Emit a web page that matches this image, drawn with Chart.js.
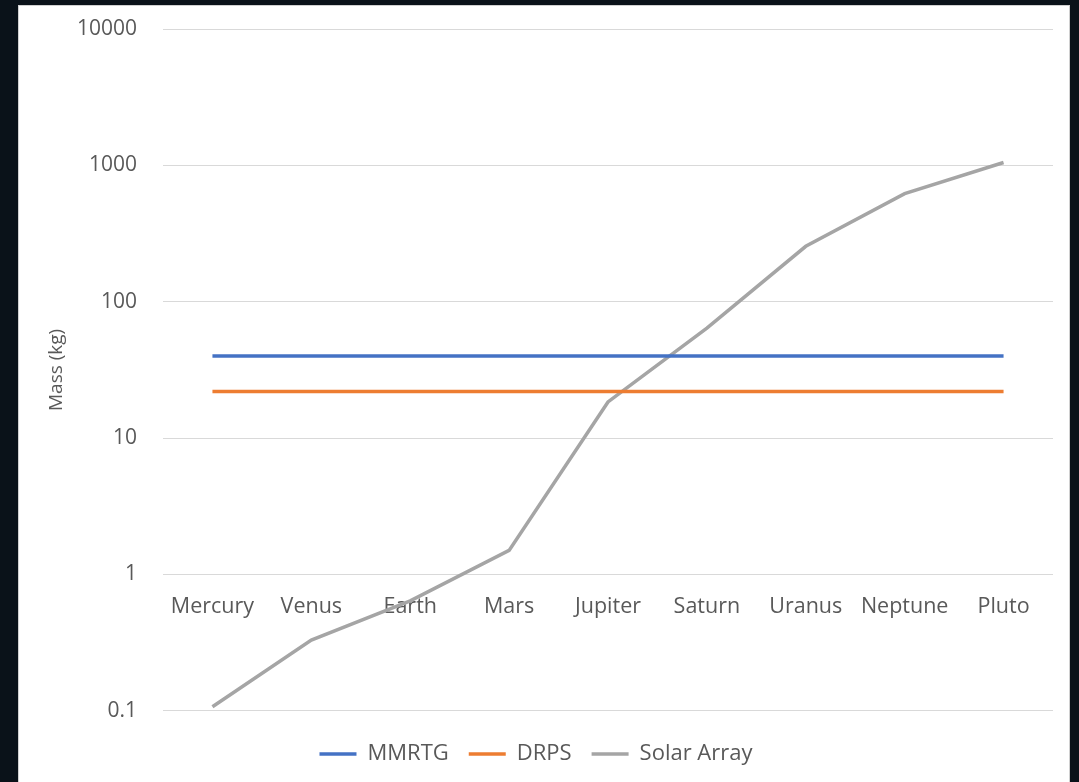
<!DOCTYPE html>
<html>
<head>
<meta charset="utf-8">
<script src="https://cdn.jsdelivr.net/npm/chart.js@4"></script>
<style>
  html, body { margin: 0; padding: 0; overflow: hidden; }
  body { background: #0a1219; width: 1079px; height: 782px; position: relative; }
  #panel {
    position: absolute; left: 18px; top: 5px; width: 1052px; height: 820px;
    background: #fff; border: 1px solid #d0d0d0; box-sizing: border-box;
  }
  #massChart { display: block; }
</style>
</head>
<body>
<div id="panel"><canvas id="massChart" width="1050" height="769"></canvas></div>
<script>
var planets = ["Mercury", "Venus", "Earth", "Mars", "Jupiter", "Saturn", "Uranus", "Neptune", "Pluto"];
var mmrtg = [40, 40, 40, 40, 40, 40, 40, 40, 40];
var drps = [22, 22, 22, 22, 22, 22, 22, 22, 22];
var solarArray = [0.107, 0.33, 0.64, 1.5, 18.4, 64, 255, 620, 1050];
var yTicks = [0.1, 1, 10, 100, 1000, 10000];
var yTickLabels = ["0.1", "1", "10", "100", "1000", "10000"];

var textColor = "#595959";
var fontName = "'Open Sans', sans-serif";

function lineSet(label, values, color) {
    return {
        label: label,
        data: values,
        borderColor: color,
        backgroundColor: color,
        borderWidth: 3.5,
        pointRadius: 0,
        tension: 0
    };
}

new Chart("massChart", {
    type: "line",
    data: {
        labels: planets,
        datasets: [
            lineSet("MMRTG", mmrtg, "#4472C4"),
            lineSet("DRPS", drps, "#ED7D31"),
            lineSet("Solar Array", solarArray, "#A5A5A5")
        ]
    },
    options: {
        responsive: false,
        animation: false,
        layout: { padding: { left: 0, right: 16, top: 23, bottom: 0 } },
        scales: {
            x: {
                position: { y: 1 },
                offset: true,
                grid: { display: false },
                border: { display: false },
                ticks: {
                    color: textColor,
                    padding: 12,
                    maxRotation: 0,
                    font: { family: fontName, size: 21.5 }
                }
            },
            y: {
                type: "logarithmic",
                min: 0.1,
                max: 10000,
                afterBuildTicks: function (scale) {
                    scale.ticks = yTicks.map(function (v) { return { value: v }; });
                },
                afterFit: function (scale) {
                    scale.width = 144;
                    scale.paddingTop = 0;
                },
                grid: { color: "#d9d9d9", lineWidth: 1, drawTicks: false },
                border: { display: false },
                ticks: {
                    color: textColor,
                    padding: 26,
                    font: { family: fontName, size: 21 },
                    callback: function (value, index) {
                        return yTickLabels[index];
                    }
                },
                title: {
                    display: true,
                    text: "Mass (kg)",
                    color: textColor,
                    padding: { top: 26, bottom: 0 },
                    font: { family: fontName, size: 19 }
                }
            }
        },
        plugins: {
            tooltip: { enabled: false },
            legend: {
                position: "bottom",
                title: { display: true, text: "", font: { size: 1 }, padding: { top: 11, bottom: 0 } },
                labels: {
                    color: textColor,
                    usePointStyle: true,
                    pointStyle: "line",
                    pointStyleWidth: 37,
                    padding: 20,
                    font: { family: fontName, size: 22 }
                }
            }
        }
    }
});
</script>
</body>
</html>
